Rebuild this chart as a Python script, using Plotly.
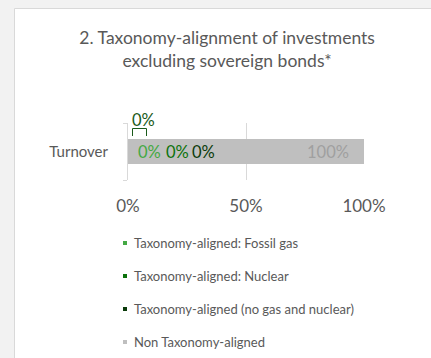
import plotly.graph_objects as go

# ---- data ----
categories = ["Turnover"]
series_names = [
    "Taxonomy-aligned: Fossil gas",
    "Taxonomy-aligned: Nuclear",
    "Taxonomy-aligned (no gas and nuclear)",
    "Non Taxonomy-aligned",
]
series_values = [0, 0, 0, 100]
series_colors = ["#44a944", "#0c720c", "#0b3b0b", "#bfbfbf"]
label_colors = ["#44a944", "#0c720c", "#0b3b0b", "#a0a0a0"]
x_tickvals = [0, 50, 100]
x_ticktext = ["0%", "50%", "100%"]
title_text = "2. Taxonomy-alignment of investments<br>excluding sovereign bonds*"

W, H = 431, 358
ML, MR, MT, MB = 128, 67, 123, 178
PW = W - ML - MR
PH = H - MT - MB
FONT = "Lato, 'Open Sans', sans-serif"
TXT = "#595959"


def px(xp):
    return (xp - ML) / PW


def py(yp):
    return (H - MB - yp) / PH


fig = go.Figure()
for name, val, col in zip(series_names, series_values, series_colors):
    fig.add_trace(go.Bar(
        y=categories, x=[val], name=name, orientation="h",
        marker=dict(color=col, line=dict(width=0)), width=0.44,
        showlegend=False, hoverinfo="skip",
    ))

annotations = []
shapes = []

# white panel
shapes.append(dict(type="rect", xref="paper", yref="paper",
                   x0=px(14.5), x1=px(W + 10), y0=py(H + 10), y1=py(8.5),
                   fillcolor="white", line=dict(color="#d9d9d9", width=1),
                   layer="below"))

# data labels
cum = 0
label_shift = [8, 36, 62]
for i, (val, col) in enumerate(zip(series_values, label_colors)):
    if i < 3:
        annotations.append(dict(x=cum, y=categories[0], xref="x", yref="y",
                                text=f"{val:.0f}%", showarrow=False,
                                xanchor="left", xshift=label_shift[i],
                                font=dict(family=FONT, size=16.5, color=col)))
    else:
        annotations.append(dict(x=cum + val, y=categories[0], xref="x", yref="y",
                                text=f"{val:.0f}%", showarrow=False,
                                xanchor="right", xshift=-13,
                                font=dict(family=FONT, size=16.5, color=col)))
    cum += val

# callout label above the bar
callout_col = "#1a5a1a"
annotations.append(dict(x=px(143), y=py(120), xref="paper", yref="paper",
                        text=f"{series_values[2]:.0f}%", showarrow=False,
                        xanchor="center", yanchor="middle",
                        font=dict(family=FONT, size=16.5, color=callout_col)))
shapes.append(dict(type="path", xref="paper", yref="paper",
                   path=f"M {px(132.5)} {py(136)} L {px(132.5)} {py(128.5)} "
                        f"L {px(146.5)} {py(128.5)} L {px(146.5)} {py(136)}",
                   line=dict(color=callout_col, width=1)))

# custom legend
leg_y = [243, 276, 309, 342]
for name, col, yy in zip(series_names, series_colors, leg_y):
    shapes.append(dict(type="rect", xref="paper", yref="paper",
                       x0=px(123), x1=px(127), y0=py(yy + 2), y1=py(yy - 2),
                       fillcolor=col, line=dict(width=0)))
    annotations.append(dict(x=px(132), y=py(yy), xref="paper", yref="paper",
                            text=name, showarrow=False, xanchor="left",
                            yanchor="middle",
                            font=dict(family=FONT, size=13, color=TXT)))

fig.update_layout(
    width=W, height=H, barmode="stack",
    margin=dict(l=ML, r=MR, t=MT, b=MB, pad=0),
    paper_bgcolor="#f2f2f2", plot_bgcolor="rgba(0,0,0,0)",
    title=dict(text=title_text, x=0.527, xanchor="center", xref="container",
               y=1 - 44 / H, yanchor="middle", yref="container",
               font=dict(family=FONT, size=17.5, color=TXT)),
    xaxis=dict(range=[0, 100], tickvals=x_tickvals, ticktext=x_ticktext,
               showgrid=True, gridcolor="#d9d9d9", gridwidth=1,
               zeroline=False, showline=False, ticks="",
               ticklabelstandoff=14, fixedrange=True,
               tickfont=dict(family=FONT, size=17, color=TXT)),
    yaxis=dict(showline=True, linecolor="#d9d9d9", linewidth=1,
               ticks="outside", tickson="boundaries", ticklen=4,
               tickcolor="#d9d9d9", showgrid=False, zeroline=False,
               ticklabelstandoff=16, fixedrange=True,
               tickfont=dict(family=FONT, size=15, color=TXT)),
    annotations=annotations, shapes=shapes,
    showlegend=False,
)

fig.write_html("out.html",
               config={"displayModeBar": False},
               post_script="document.body.style.margin='0';"
                           "document.body.style.background='#f2f2f2';")
